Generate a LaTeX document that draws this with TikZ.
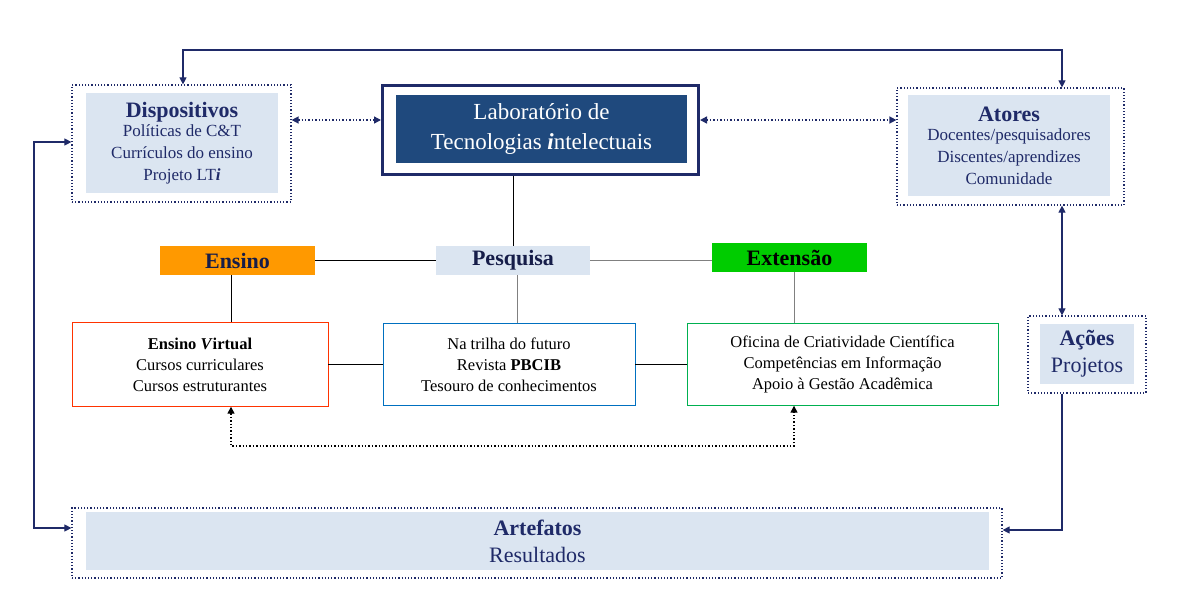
\documentclass[tikz,border=0pt]{standalone}
\usepackage{fontspec}
\setmainfont{Liberation Serif}
\usetikzlibrary{arrows.meta}
\definecolor{navy}{HTML}{1F2A68}
\definecolor{labblue}{HTML}{1F497D}
\definecolor{pale}{HTML}{DBE5F1}
\definecolor{ensorange}{HTML}{FF9900}
\definecolor{extgreen}{HTML}{00CC00}
\definecolor{virtred}{HTML}{FF3300}
\definecolor{pesqblue}{HTML}{0070C0}
\definecolor{extline}{HTML}{00B050}
\newcommand{\bigtxt}{\fontsize{22}{27}\selectfont}
\newcommand{\bodytxt}{\fontsize{17}{22}\selectfont}
\tikzset{
  outer/.style={draw=navy, line width=1.2pt, dotted, inner sep=0pt},
  inner/.style={fill=pale, text=navy, align=center, inner sep=0pt},
  tag/.style={font=\bigtxt\bfseries, inner sep=0pt},
  act/.style={draw, fill=white, align=center, font=\fontsize{16.5}{21}\selectfont, inner sep=0pt},
  link/.style={draw=gray, line width=0.8pt},
  nav/.style={draw=navy, line width=1.1pt, -{Triangle[width=7pt,length=7pt]}},
  dots/.style={line width=1.4pt, dotted, {Triangle[width=7pt,length=7pt,fill=navy]}-{Triangle[width=7pt,length=7pt,fill=navy]}}
}
\begin{document}
\begin{tikzpicture}[x=1pt,y=-1pt]
  \useasboundingbox (0,0) rectangle (1178,614);
  % upper row
  \node [outer, minimum width=219pt, minimum height=117pt] (dispo) at (181.5,143.5) {};
  \node [inner, font=\bodytxt, minimum width=192pt, minimum height=100pt] (dispoT) at (182,143) {%
    {\bigtxt\bfseries Dispositivos}\\[-3pt]
    Políticas de C\&T\\ Currículos do ensino\\ Projeto LT\textbf{\textit{i}}};
  \node [draw=navy, line width=3pt, minimum width=316pt, minimum height=89pt, inner sep=0pt] (lab) at (540.5,129.5) {};
  \node [fill=labblue, text=white, align=center, minimum width=291pt, minimum height=68pt, inner sep=0pt,
         font=\fontsize{23}{30}\selectfont] (labT) at (541.5,129) {Laboratório de\\ Tecnologias \textbf{\textit{i}}ntelectuais};
  \node [outer, minimum width=227pt, minimum height=117pt] (atores) at (1010.5,146.5) {};
  \node [inner, font=\bodytxt, minimum width=202pt, minimum height=101pt] (atoresT) at (1009,145.5) {%
    {\bigtxt\bfseries Atores}\\[-3pt]
    Docentes/pesquisadores\\ Discentes/aprendizes\\ Comunidade};
  % middle row
  \node [tag, fill=ensorange, text=navy!70!black, minimum width=155pt, minimum height=29pt] (ensino) at (237.5,260.5) {Ensino};
  \node [tag, fill=pale, text=navy!70!black, minimum width=154pt, minimum height=29pt] (pesq) at (513,260.5) {Pesquisa};
  \node [tag, fill=extgreen, text=black, minimum width=155pt, minimum height=29pt] (ext) at (789.5,257.5) {Extensão};
  \node [act, draw=virtred, minimum width=256pt, minimum height=84pt] (virt) at (200,364.5) {%
    \textbf{Ensino \textit{V}irtual}\\ Cursos curriculares\\ Cursos estruturantes};
  \node [act, draw=pesqblue, minimum width=252pt, minimum height=82pt] (trilha) at (509,364.5) {%
    Na trilha do futuro\\ Revista \textbf{PBCIB}\\ Tesouro de conhecimentos};
  \node [act, draw=extline, minimum width=311pt, minimum height=82pt] (oficina) at (842.5,364.5) {%
    Oficina de Criatividade Científica\\ Competências em Informação\\ Apoio à Gestão Acadêmica};
  % right and bottom
  \node [outer, minimum width=118pt, minimum height=77pt] (acoes) at (1087,354.5) {};
  \node [inner, font=\bigtxt, minimum width=94pt, minimum height=60pt] (acoesT) at (1087,354) {%
    \textbf{Ações}\\ Projetos};
  \node [outer, minimum width=930pt, minimum height=70pt] (artef) at (537,543) {};
  \node [inner, font=\bigtxt, minimum width=903pt, minimum height=58pt] (artefT) at (537.5,541) {%
    \textbf{Artefatos}\\ Resultados};
  % connectors
  \coordinate (tl) at (183,50);
  \coordinate (tr) at (1062,50);
  \draw [nav, {Triangle[width=7pt,length=7pt]}-{Triangle[width=7pt,length=7pt]}]
    (dispo.north -| tl) -- (tl) -- (tr) -- (atores.north -| tr);
  \draw [dots, draw=navy] (dispo.east |- 0,120) -- (lab.west |- 0,120);
  \draw [dots, draw=navy] (lab.east |- 0,120) -- (atores.west |- 0,120);
  \draw [link, draw=black] (lab.south -| pesq) -- (pesq.north);
  \draw [link, draw=black] (ensino.east) -- (pesq.west);
  \draw [link] (pesq.east) -- (ext.west |- pesq.east);
  \draw [link, draw=black] (ensino.south -| 231,0) -- (virt.north -| 231,0);
  \draw [link] (pesq.south -| 517,0) -- (trilha.north -| 517,0);
  \draw [link] (ext.south -| 794,0) -- (oficina.north -| 794,0);
  \draw [link, draw=black] (virt.east) -- (trilha.west);
  \draw [link, draw=black] (trilha.east) -- (oficina.west);
  \coordinate (dl) at (231,446);
  \coordinate (dr) at (794,446);
  \draw [dots, {Triangle[width=7pt,length=7pt]}-{Triangle[width=7pt,length=7pt]}]
    (virt.south -| dl) -- (dl) -- (dr) -- (oficina.south -| dr);
  \draw [nav, {Triangle[width=7pt,length=7pt]}-{Triangle[width=7pt,length=7pt]}]
    (atores.south -| 1062,0) -- (acoes.north -| 1062,0);
  \coordinate (ar) at (1062,530);
  \draw [nav] (acoes.south -| ar) -- (ar) -- (artef.east |- ar);
  \coordinate (lb) at (34,528);
  \coordinate (lt) at (34,142);
  \draw [nav, {Triangle[width=7pt,length=7pt]}-{Triangle[width=7pt,length=7pt]}]
    (artef.west |- lb) -- (lb) -- (lt) -- (dispo.west |- lt);
\end{tikzpicture}
\end{document}
